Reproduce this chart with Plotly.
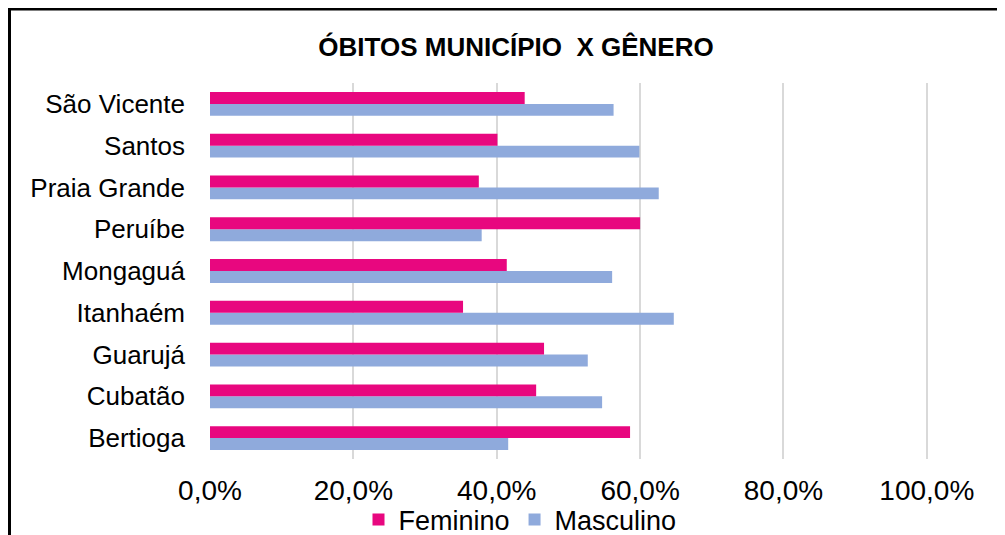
import plotly.graph_objects as go

municipios = ["Bertioga", "Cubatão", "Guarujá", "Itanhaém", "Mongaguá",
              "Peruíbe", "Praia Grande", "Santos", "São Vicente"]
feminino = [0.586, 0.455, 0.466, 0.353, 0.414, 0.600, 0.375, 0.401, 0.439]
masculino = [0.416, 0.547, 0.527, 0.647, 0.561, 0.379, 0.626, 0.599, 0.563]
x_ticks = [0, 0.2, 0.4, 0.6, 0.8, 1.0]

OFF = 8  # page body margin
W, H = 1005 - OFF, 535 - OFF
ml, mr, mt, mb = 210 - OFF, 71, 83 - OFF, 76
pw, ph = W - ml - mr, H - mt - mb

fig = go.Figure()
fig.add_trace(go.Bar(y=municipios, x=masculino, name="Masculino", orientation="h",
                     marker=dict(color="#8FAADC", line=dict(width=0)), legendrank=2))
fig.add_trace(go.Bar(y=municipios, x=feminino, name="Feminino", orientation="h",
                     marker=dict(color="#E8077F", line=dict(width=0)), legendrank=1))

def px_x(p):
    return ((p - OFF) - ml) / pw

def px_y(p):
    return (H - mb - (p - OFF)) / ph

fig.update_layout(
    width=W, height=H,
    margin=dict(l=ml, r=mr, t=mt, b=mb, autoexpand=False),
    paper_bgcolor="white", plot_bgcolor="white",
    barmode="group", bargap=0.43, bargroupgap=0,
    separators=",.",
    font=dict(family="Liberation Sans, Arial", size=26, color="#000000"),
    title=dict(text="<b>ÓBITOS MUNICÍPIO  X GÊNERO</b>", x=(516 - OFF) / W, xanchor="center",
               y=1 - (47 - OFF) / H, yanchor="middle", yref="container",
               font=dict(size=26, color="#000000")),
    xaxis=dict(range=[0, 1.01], tickvals=x_ticks, tickformat=".1%",
               showgrid=True, gridcolor="#D9D9D9", gridwidth=2,
               zeroline=False, showline=False, ticks="", ticklabelstandoff=12,
               tickfont=dict(size=28)),
    yaxis=dict(showgrid=False, zeroline=False, showline=False, ticks="",
               ticklabelstandoff=24, tickfont=dict(size=26)),
    legend=dict(orientation="h", x=px_x(520), xanchor="center", y=px_y(520), yanchor="middle",
                font=dict(size=27), itemwidth=30, tracegroupgap=0,
                bgcolor="rgba(0,0,0,0)"),
    shapes=[dict(type="rect", xref="paper", yref="paper",
                 x0=px_x(9.5), x1=px_x(1100), y0=px_y(600), y1=px_y(9),
                 line=dict(color="#000000", width=3), fillcolor="rgba(0,0,0,0)",
                 layer="above")],
)

fig.write_html("out.html")
